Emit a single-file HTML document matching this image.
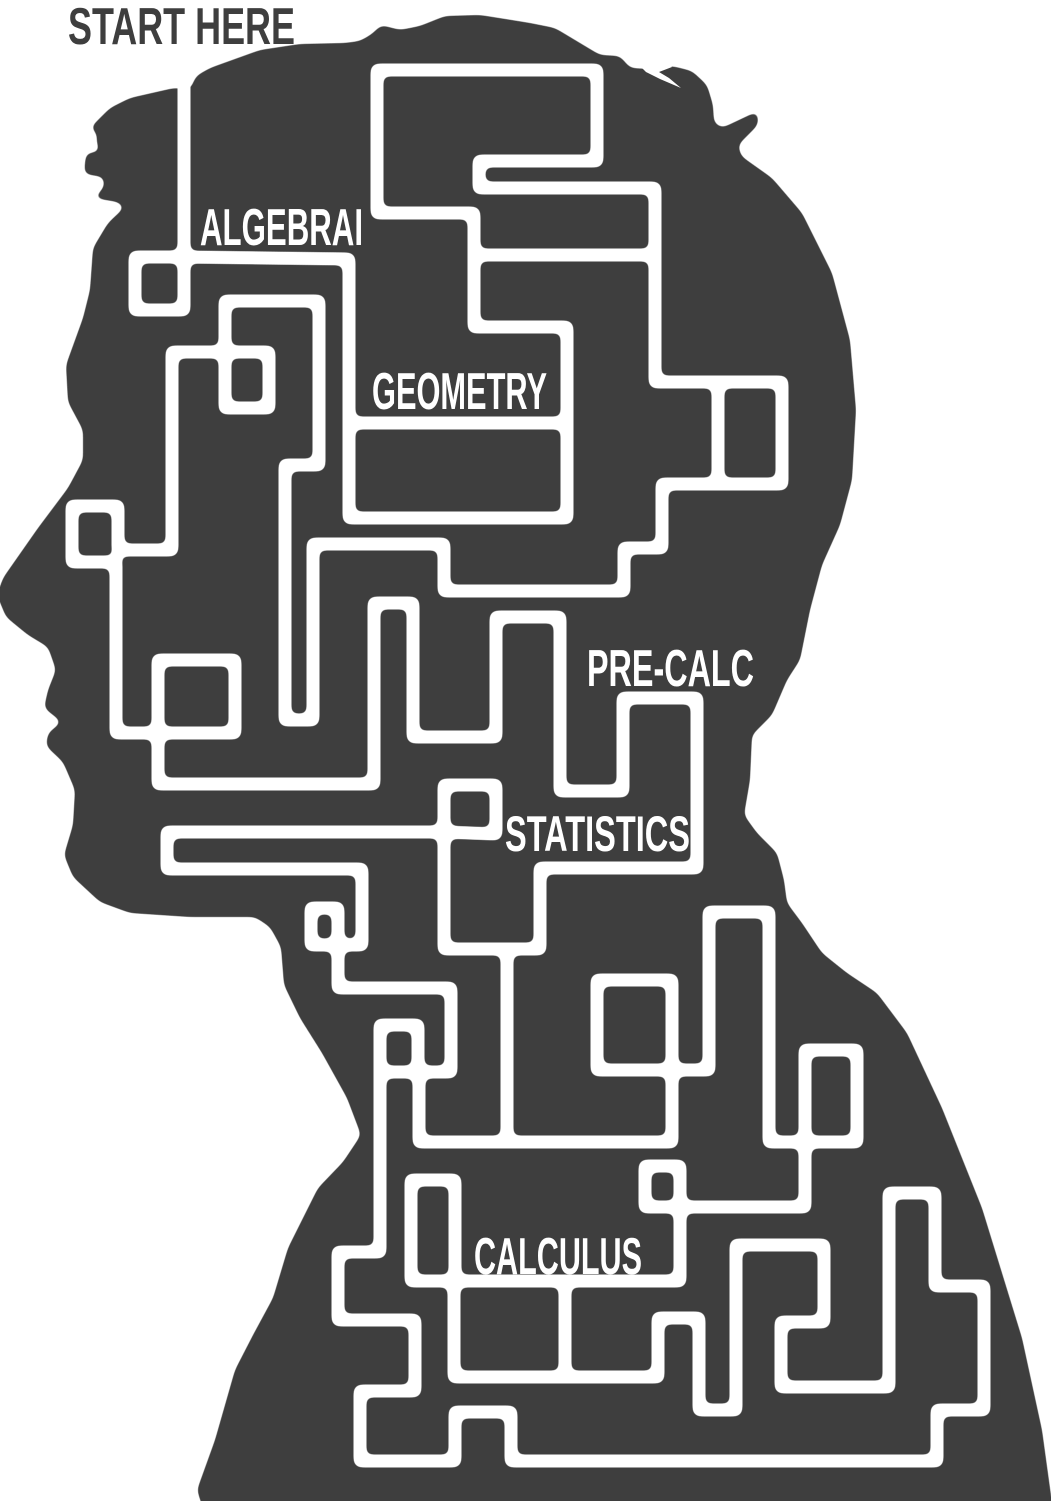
<!DOCTYPE html>
<html lang="en">
<head>
<meta charset="utf-8">
<title>Math Maze Head</title>
<style>
html,body{margin:0;padding:0;background:#fff;width:1051px;height:1501px;overflow:hidden}
svg{display:block}
text{font-family:"Liberation Sans",sans-serif;font-weight:bold}
</style>
</head>
<body>
<svg xmlns="http://www.w3.org/2000/svg" width="1051" height="1501" viewBox="0 0 1051 1501">
<defs>
<filter id="soft" filterUnits="userSpaceOnUse" x="-50" y="-50" width="1151" height="1601" color-interpolation-filters="sRGB">
<feGaussianBlur stdDeviation="3.4"/>
<feComponentTransfer><feFuncA type="linear" slope="10" intercept="-4.5"/></feComponentTransfer>
</filter>
<filter id="softer" filterUnits="userSpaceOnUse" x="-50" y="-50" width="1151" height="1601" color-interpolation-filters="sRGB">
<feGaussianBlur stdDeviation="4"/>
<feComponentTransfer><feFuncA type="linear" slope="10" intercept="-4.5"/></feComponentTransfer>
</filter>
</defs>
<rect width="1051" height="1501" fill="#fff"/>
<polygon filter="url(#softer)" fill="#3e3e3e" points="90,128 110,108 130,98 174,88 176,88 190,90 196,76 210,68 260,50 300,44 345,43 360,41 372,34 381,25 400,30 420,26 445,16 480,15 530,23 555,28 580,43 600,55 620,56 630,68 650,69 672,66 692,71 707,85 713,105 714,123 722,128 758,111 758,125 738,145 741,156 772,178 802,213 832,273 850,340 856,410 852,480 840,525 822,565 810,610 800,660 787,680 772,715 752,735 750,780 744,815 757,833 777,853 784,880 787,903 802,923 822,953 847,973 877,993 907,1033 942,1108 982,1208 1022,1338 1042,1430 1053,1510 1080,1530 210,1530 197,1490 215,1440 235,1370 253,1335 273,1298 288,1248 318,1188 343,1162 361,1135 347,1098 322,1053 300,1018 284,985 281,947 270,927 255,917 190,917 130,913 100,902 73,877 64,855 73,825 75,790 63,762 46,746 48,733 62,722 44,708 48,690 56,670 48,647 28,635 6,617 -3,595 3,578 38,528 68,488 83,460 83,430 68,402 66,365 83,318 90,290 93,248 108,223 125,207 118,202 93,198 104,188 104,177 84,174 86,153 100,152 96,140 98,134"/>
<polygon fill="#fff" points="636,62 646,72 660,79 681,88 669,78 659,72 672,67 664,58"/>
<g filter="url(#soft)" fill="none" stroke="#fff" stroke-width="13" stroke-linejoin="round" stroke-linecap="butt">
<path d="M184,60V310H135V257H184L349,259V518H567V327H474V213H377V70H597V161H479V188H655V382H782V484H662V548H624V591H444V544H313V720H285V465H319V301H225V352H172V550H118V506H72V562H116V733H235V660H158V784H374V603H413V737H496V617H560V791H623V698H697V868H540V949H444V785H496V834L444,832H167V869H362V945H338V988H451V1072H380V1252H338V1320H415V1391H360V1461H455V1412H511V1461H937V1410H984V1286H935V1193H889V1387H781V1322H824V1245H736V1410H699V1318H658V1377H454V1281H411V1180H455V1281H680V1207H645V1166H680V1207H805V1142H769V912H709V1070H672V980H597V1070H672V1142H419V1072"/>
<path d="M380,1072V1025H418V1072"/>
<path d="M225,352V408H269V352H225"/>
<path d="M349,423H567"/>
<path d="M474,255H655"/>
<path d="M718,382V484"/>
<path d="M116,562H72"/>
<path d="M158,733V660"/>
<path d="M507,949V1142"/>
<path d="M565,1281V1377"/>
<path d="M805,1142H857V1050H805V1142"/>
<path d="M338,945H311V908H338V945"/>
<path d="M444,834V785"/>
</g>
<text x="68" y="44" font-size="52" fill="#3e3e3e" textLength="227" lengthAdjust="spacingAndGlyphs">START HERE</text>
<text x="200" y="245" font-size="52" fill="#fff" textLength="163" lengthAdjust="spacingAndGlyphs">ALGEBRAI</text>
<text x="372" y="409" font-size="52" fill="#fff" textLength="175" lengthAdjust="spacingAndGlyphs">GEOMETRY</text>
<text x="587" y="686" font-size="52" fill="#fff" textLength="167" lengthAdjust="spacingAndGlyphs">PRE-CALC</text>
<text x="505" y="851" font-size="50" fill="#fff" textLength="185" lengthAdjust="spacingAndGlyphs">STATISTICS</text>
<text x="474" y="1274" font-size="52" fill="#fff" textLength="168" lengthAdjust="spacingAndGlyphs">CALCULUS</text>
</svg>
</body>
</html>
